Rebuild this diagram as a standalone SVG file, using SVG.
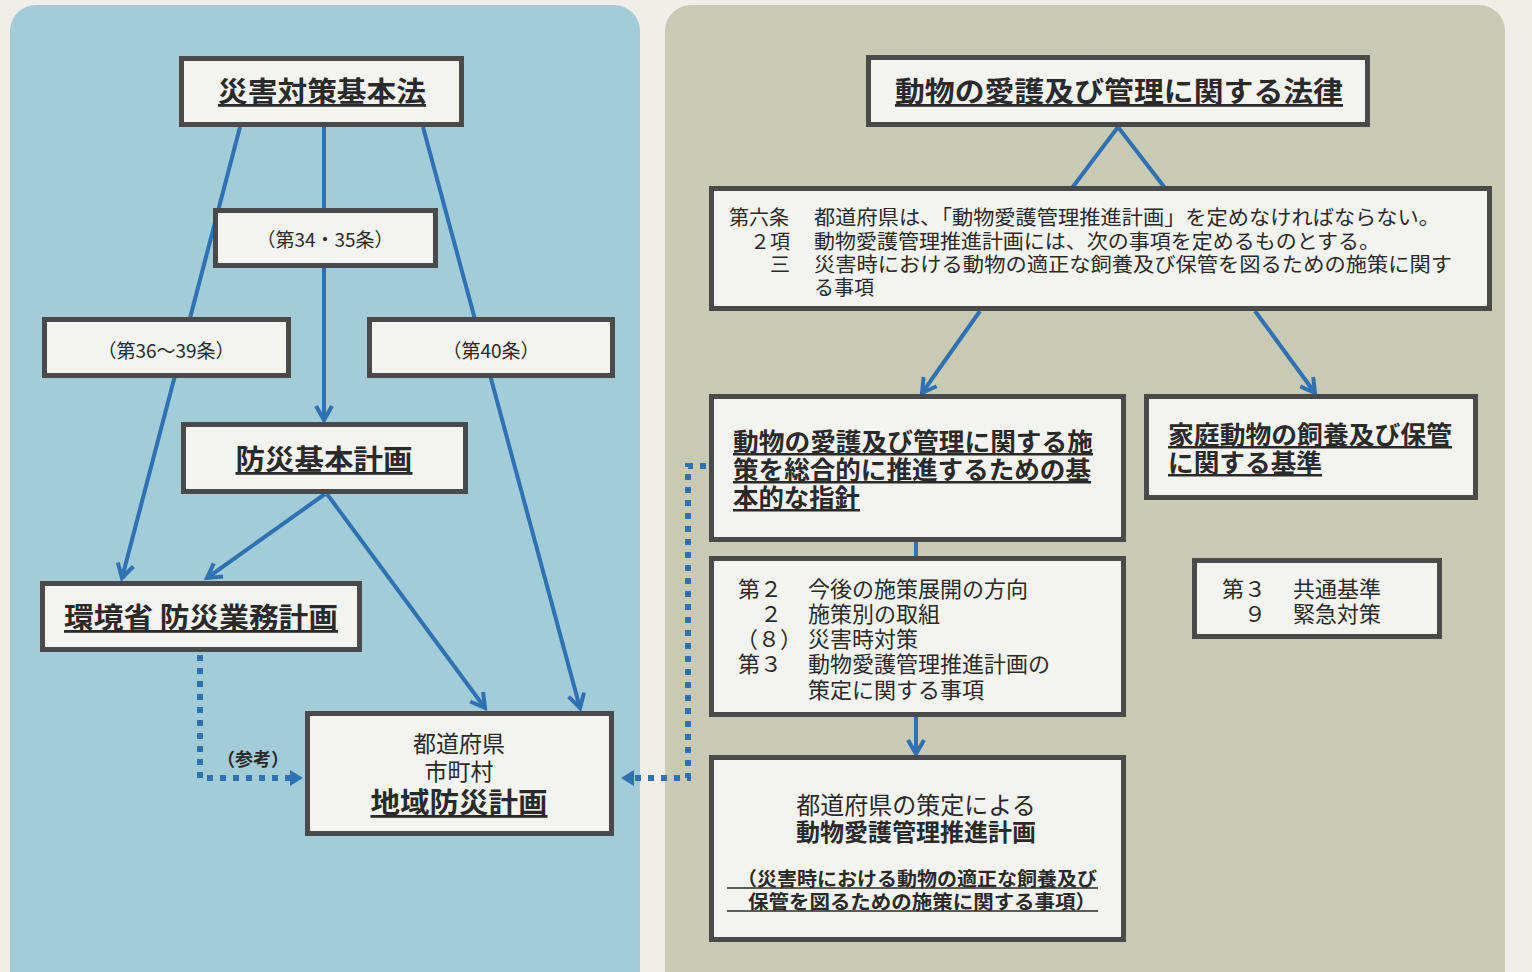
<svg xmlns="http://www.w3.org/2000/svg" width="1532" height="972" viewBox="0 0 1532 972">
<style>
text{font-family:"Noto Sans CJK JP","Noto Sans CJK SC",sans-serif;fill:#2a2a2a}
.box{fill:#f3f3ef;stroke:#4a4a4a;stroke-width:5}
.t{font-size:28px;font-weight:700;text-anchor:middle;text-decoration:underline}
.lbl{font-size:19px;text-anchor:middle}
.s20{font-size:20px}
.s22{font-size:22px}
.h26{font-size:25px;font-weight:700;text-decoration:underline}
.ln{stroke:#2f72b4;stroke-width:4;fill:none}
.dot{stroke:#2f72b4;stroke-width:6;fill:none;stroke-dasharray:6 7}
</style>
<defs>
<marker id="chev" viewBox="0 0 20 20" refX="17" refY="10" markerWidth="20" markerHeight="20" markerUnits="userSpaceOnUse" orient="auto">
<path d="M3,2 L17,10 L3,18" fill="none" stroke="#2f72b4" stroke-width="4"/>
</marker>
</defs>
<rect x="0" y="0" width="1532" height="972" fill="#efeee8"/>
<rect x="10" y="5" width="630" height="1000" rx="26" fill="#a1ccd8"/>
<rect x="665" y="5" width="840" height="1000" rx="26" fill="#c8cab4"/>

<g id="connectors">
<line class="ln" x1="240" y1="127" x2="122" y2="578" marker-end="url(#chev)"/>
<line class="ln" x1="324" y1="127" x2="324" y2="420" marker-end="url(#chev)"/>
<line class="ln" x1="423" y1="127" x2="580" y2="708" marker-end="url(#chev)"/>
<line class="ln" x1="325" y1="494" x2="207" y2="578" marker-end="url(#chev)"/>
<line class="ln" x1="327" y1="494" x2="485" y2="708" marker-end="url(#chev)"/>
<polyline class="dot" points="200,655 200,778 290,778"/>
<polygon points="290,770 303,778 290,786" fill="#2f72b4"/>
<polyline class="dot" points="706,466 688,466 688,778 634,778"/>
<polygon points="634,770 621,778 634,786" fill="#2f72b4"/>
<line class="ln" x1="1118" y1="127" x2="1072" y2="188"/>
<line class="ln" x1="1118" y1="127" x2="1165" y2="188"/>
<line class="ln" x1="980" y1="311" x2="922" y2="393" marker-end="url(#chev)"/>
<line class="ln" x1="1255" y1="311" x2="1315" y2="393" marker-end="url(#chev)"/>
<line class="ln" x1="916" y1="542" x2="916" y2="557"/>
<line class="ln" x1="916" y1="717" x2="916" y2="754" marker-end="url(#chev)"/>
<text x="253" y="766" font-size="18" font-weight="700" text-anchor="middle">（参考）</text>
</g>

<g id="n-saigai">
<rect class="box" x="181.5" y="58.5" width="280" height="66"/>
<text class="t" x="322" y="102" textLength="208" lengthAdjust="spacingAndGlyphs">災害対策基本法</text>
</g>
<g id="n-34">
<rect class="box" x="215.5" y="210.5" width="220" height="55"/>
<text class="lbl" x="325" y="247">（第34・35条）</text>
</g>
<g id="n-36">
<rect class="box" x="44.5" y="319.5" width="244" height="56"/>
<text class="lbl" x="166" y="358">（第36～39条）</text>
</g>
<g id="n-40">
<rect class="box" x="369.5" y="319.5" width="243" height="56"/>
<text class="lbl" x="491" y="358">（第40条）</text>
</g>
<g id="n-bousai">
<rect class="box" x="183.5" y="424.5" width="282" height="67"/>
<text class="t" x="324" y="470" textLength="177" lengthAdjust="spacingAndGlyphs">防災基本計画</text>
</g>
<g id="n-kankyo">
<rect class="box" x="42.5" y="583.5" width="317" height="66"/>
<text class="t" x="201" y="628" textLength="274" lengthAdjust="spacingAndGlyphs">環境省 防災業務計画</text>
</g>
<g id="n-chiiki">
<rect class="box" x="307.5" y="713.5" width="304" height="120"/>
<text x="459" y="752" font-size="23" text-anchor="middle">都道府県</text>
<text x="459" y="780" font-size="23" text-anchor="middle">市町村</text>
<text class="t" x="459" y="813" textLength="177" lengthAdjust="spacingAndGlyphs">地域防災計画</text>
</g>

<g id="n-houritsu">
<rect class="box" x="868.5" y="57.5" width="499" height="67"/>
<text class="t" x="1119" y="102" textLength="448" lengthAdjust="spacingAndGlyphs">動物の愛護及び管理に関する法律</text>
</g>
<g id="n-dai6">
<rect class="box" x="711.5" y="188.5" width="778" height="120"/>
<text class="s20" x="729" y="225">第六条</text>
<text class="s20" x="814" y="225" textLength="626" lengthAdjust="spacingAndGlyphs">都道府県は、「動物愛護管理推進計画」を定めなければならない。</text>
<text class="s20" x="790" y="249" text-anchor="end">２項</text>
<text class="s20" x="814" y="249" textLength="566" lengthAdjust="spacingAndGlyphs">動物愛護管理推進計画には、次の事項を定めるものとする。</text>
<text class="s20" x="790" y="272" text-anchor="end">三</text>
<text class="s20" x="814" y="272" textLength="638" lengthAdjust="spacingAndGlyphs">災害時における動物の適正な飼養及び保管を図るための施策に関す</text>
<text class="s20" x="814" y="295">る事項</text>
</g>
<g id="n-shishin">
<rect class="box" x="711.5" y="396.5" width="412" height="143"/>
<text class="h26" x="733" y="451" textLength="360" lengthAdjust="spacingAndGlyphs">動物の愛護及び管理に関する施</text>
<text class="h26" x="733" y="479" textLength="358" lengthAdjust="spacingAndGlyphs">策を総合的に推進するための基</text>
<text class="h26" x="733" y="507" textLength="127" lengthAdjust="spacingAndGlyphs">本的な指針</text>
</g>
<g id="n-katei">
<rect class="box" x="1146.5" y="396.5" width="329" height="101"/>
<text class="h26" x="1168" y="444" textLength="284" lengthAdjust="spacingAndGlyphs">家庭動物の飼養及び保管</text>
<text class="h26" x="1168" y="472" textLength="154" lengthAdjust="spacingAndGlyphs">に関する基準</text>
</g>
<g id="n-dai2">
<rect class="box" x="711.5" y="558.5" width="412" height="156"/>
<text class="s22" x="738" y="597">第２</text>
<text class="s22" x="808" y="597">今後の施策展開の方向</text>
<text class="s22" x="782" y="622" text-anchor="end">２</text>
<text class="s22" x="808" y="622">施策別の取組</text>
<text class="s22" x="802" y="647" text-anchor="end">（８）</text>
<text class="s22" x="808" y="647">災害時対策</text>
<text class="s22" x="738" y="672">第３</text>
<text class="s22" x="808" y="672">動物愛護管理推進計画の</text>
<text class="s22" x="808" y="698">策定に関する事項</text>
</g>
<g id="n-kyotsu">
<rect class="box" x="1194.5" y="560.5" width="245" height="76"/>
<text class="s22" x="1222" y="597">第３</text>
<text class="s22" x="1293" y="597">共通基準</text>
<text class="s22" x="1266" y="622" text-anchor="end">９</text>
<text class="s22" x="1293" y="622">緊急対策</text>
</g>
<g id="n-keikaku">
<rect class="box" x="711.5" y="757.5" width="412" height="182"/>
<text x="916" y="814" font-size="24" text-anchor="middle">都道府県の策定による</text>
<text x="916" y="841" font-size="24" font-weight="700" text-anchor="middle">動物愛護管理推進計画</text>
<text x="917" y="886" font-size="19" font-weight="700" text-anchor="middle" textLength="360" lengthAdjust="spacingAndGlyphs">（災害時における動物の適正な飼養及び</text>
<text x="922" y="909" font-size="19" font-weight="700" text-anchor="middle" textLength="348" lengthAdjust="spacingAndGlyphs">保管を図るための施策に関する事項）</text>
<line x1="727" y1="888" x2="1098" y2="888" stroke="#2a2a2a" stroke-width="1.6"/>
<line x1="727" y1="911" x2="1098" y2="911" stroke="#2a2a2a" stroke-width="1.6"/>
</g>
</svg>
